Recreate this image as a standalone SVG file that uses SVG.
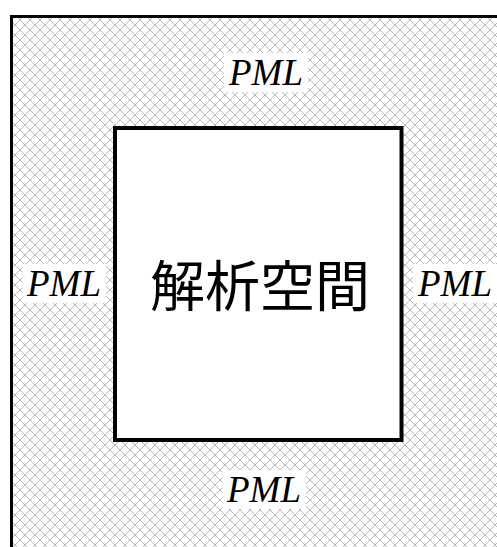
<svg xmlns="http://www.w3.org/2000/svg" width="497" height="547" viewBox="0 0 497 547">
<style>
.pml{font-family:"Liberation Serif","DejaVu Serif",serif;font-style:italic;font-size:37px;fill:#000;text-anchor:middle}
.lbg{fill:#fff}
</style>
<defs>
<pattern id="hatch" width="10" height="10" patternUnits="userSpaceOnUse">
<path d="M0,0 L10,10 M10,0 L0,10" stroke="#b8b8b8" stroke-width="1" fill="none"/>
</pattern>
</defs>
<rect width="497" height="547" fill="#fff"/>
<g id="pml-region">
<rect x="11.5" y="16.5" width="500" height="550" fill="url(#hatch)" stroke="#000" stroke-width="3"/>
</g>
<g id="analysis-space">
<rect x="115" y="128" width="286.5" height="312" fill="#fff" stroke="#000" stroke-width="4"/>
<text x="260" y="306" font-family="'Noto Sans CJK JP','Noto Sans CJK SC',sans-serif" font-size="55" text-anchor="middle" fill="#000">解析空間</text>
</g>
<g id="label-top">
<rect class="lbg" x="224" y="53" width="84" height="39"/>
<text class="pml" x="266" y="85">PML</text>
</g>
<g id="label-left">
<rect class="lbg" x="22" y="264" width="84" height="39"/>
<text class="pml" x="64" y="296">PML</text>
</g>
<g id="label-right">
<rect class="lbg" x="413" y="264" width="84" height="39"/>
<text class="pml" x="455" y="296">PML</text>
</g>
<g id="label-bottom">
<rect class="lbg" x="222" y="470" width="84" height="39"/>
<text class="pml" x="264" y="502">PML</text>
</g>
<g id="connectors"/>
</svg>
